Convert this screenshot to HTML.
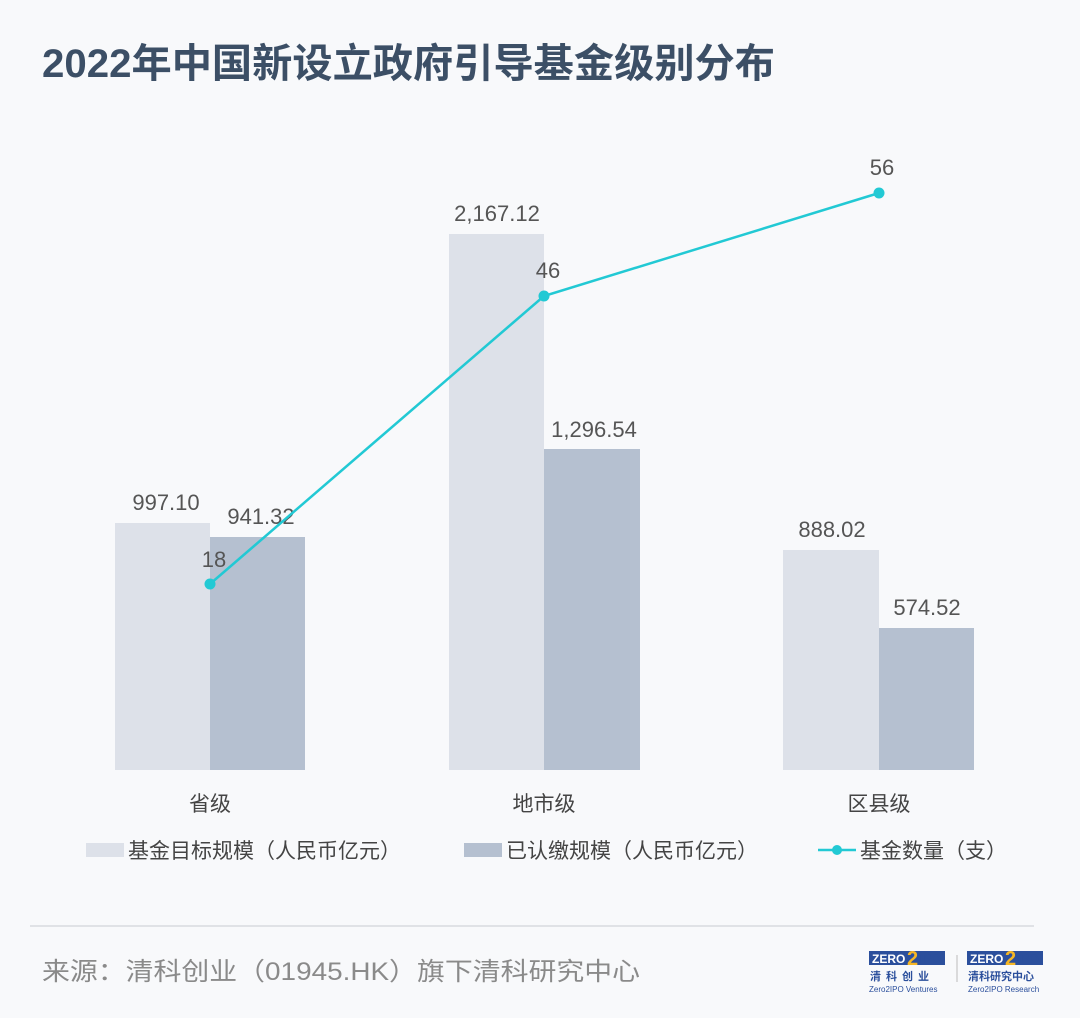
<!DOCTYPE html>
<html><head><meta charset="utf-8"><style>
body{margin:0;background:#f8f9fb;}
svg{display:block}
text{font-family:"Liberation Sans","Noto Sans CJK SC",sans-serif;}
</style></head><body>
<svg width="1080" height="1018" viewBox="0 0 1080 1018">
<rect width="1080" height="1018" fill="#f8f9fb"/>
<text x="42" y="77" font-size="40" font-weight="bold" fill="#3c4f66" textLength="733" lengthAdjust="spacingAndGlyphs">2022年中国新设立政府引导基金级别分布</text>
<g fill="#dde1e9">
<rect x="115" y="523" width="95" height="247"/>
<rect x="449" y="234" width="95" height="536"/>
<rect x="783" y="550" width="96" height="220"/>
</g>
<g fill="#b5c0d0">
<rect x="210" y="537" width="95" height="233"/>
<rect x="544" y="449" width="96" height="321"/>
<rect x="879" y="628" width="95" height="142"/>
</g>
<g font-size="22" fill="#555" text-anchor="middle">
<text x="166" y="510">997.10</text>
<text x="261" y="524">941.32</text>
<text x="497" y="221">2,167.12</text>
<text x="594" y="437">1,296.54</text>
<text x="832" y="537">888.02</text>
<text x="927" y="615">574.52</text>
<text x="214" y="567">18</text>
<text x="548" y="278">46</text>
<text x="882" y="175">56</text>
</g>
<polyline points="210,584 544,296 879,193" fill="none" stroke="#22c9d4" stroke-width="2.5"/>
<g fill="#22c9d4"><circle cx="210" cy="584" r="5.5"/><circle cx="544" cy="296" r="5.5"/><circle cx="879" cy="193" r="5.5"/></g>
<g font-size="21" fill="#444" text-anchor="middle">
<text x="210" y="811">省级</text>
<text x="544" y="811">地市级</text>
<text x="879" y="811">区县级</text>
</g>
<rect x="86" y="843" width="38" height="14" fill="#dde1e9"/>
<text x="128" y="858" font-size="21" fill="#444">基金目标规模（人民币亿元）</text>
<rect x="464" y="843" width="38" height="14" fill="#b5c0d0"/>
<text x="506" y="858" font-size="21" fill="#444">已认缴规模（人民币亿元）</text>
<line x1="818" y1="850" x2="856" y2="850" stroke="#22c9d4" stroke-width="2.5"/>
<circle cx="837" cy="850" r="5" fill="#22c9d4"/>
<text x="860" y="858" font-size="21" fill="#444">基金数量（支）</text>
<line x1="30" y1="926" x2="1034" y2="926" stroke="#d8dbe0" stroke-width="1.5"/>
<text x="42" y="980" font-size="25" fill="#8a8a8a" textLength="598" lengthAdjust="spacingAndGlyphs">来源：清科创业（01945.HK）旗下清科研究中心</text>
<g>
<rect x="869" y="951" width="76" height="14" fill="#2b4f9c"/>
<text x="872" y="963" font-size="12" font-weight="bold" fill="#fff">ZERO</text>
<text x="907" y="965" font-size="20" font-weight="bold" fill="#f5b625">2</text>
<text x="920" y="963" font-size="12" font-weight="bold" fill="#2b4f9c">IPO</text>
<text x="870" y="980" font-size="11" font-weight="bold" fill="#2b4f9c" letter-spacing="5">清科创业</text>
<text x="869" y="992" font-size="8" fill="#2b4f9c">Zero2IPO Ventures</text>
<line x1="957" y1="955" x2="957" y2="982" stroke="#bbb"/>
<rect x="967" y="951" width="76" height="14" fill="#2b4f9c"/>
<text x="970" y="963" font-size="12" font-weight="bold" fill="#fff">ZERO</text>
<text x="1005" y="965" font-size="20" font-weight="bold" fill="#f5b625">2</text>
<text x="1018" y="963" font-size="12" font-weight="bold" fill="#2b4f9c">IPO</text>
<text x="968" y="980" font-size="11" font-weight="bold" fill="#2b4f9c">清科研究中心</text>
<text x="968" y="992" font-size="8" fill="#2b4f9c">Zero2IPO Research</text>
</g>
</svg>
</body></html>
